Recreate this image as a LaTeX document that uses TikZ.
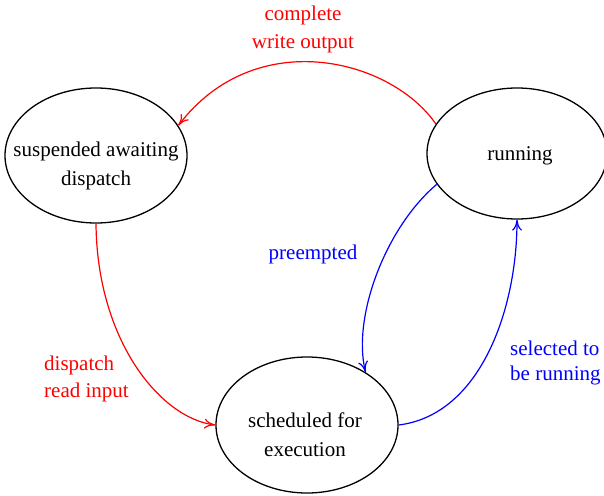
\documentclass[tikz,border=0pt]{standalone}
\usepackage{fontspec}
\setmainfont{Liberation Serif}
\usetikzlibrary{shapes.geometric,arrows.meta}
\definecolor{lred}{RGB}{255,0,0}
\definecolor{lblue}{RGB}{0,0,255}
\begin{document}
\begin{tikzpicture}[x=1pt,y=-1pt,
  state/.style={draw=black,line width=1.3pt,ellipse,inner sep=0pt},
  txt/.style={inner sep=0pt,align=center,font=\fontsize{21}{29}\selectfont},
  edge/.style={line width=1.2pt,-{To[length=11pt,width=10pt]}}]
\useasboundingbox (0,0) rectangle (604,495);
\node[state,minimum width=182pt,minimum height=135pt] (susp) at (96,155.5) {};
\node[state,minimum width=180pt,minimum height=131pt] (run) at (517,153.5) {};
\node[state,minimum width=182pt,minimum height=136pt] (sched) at (307,425) {};
\node[txt] (tsusp) at (96,165.5) {suspended awaiting\\dispatch};
\node[txt] (trun) at (520,156) {running};
\node[txt] (tsched) at (305,434.5) {scheduled for\\execution};
\node[txt,text=lred,font=\fontsize{21}{28}\selectfont] (l1) at (303,29) {complete\\write output};
\node[txt,text=lred,align=left,anchor=west,font=\fontsize{21}{27}\selectfont] (l2) at (44,378.5) {dispatch\\read input};
\node[txt,text=lblue] (l3) at (313,254) {preempted};
\node[txt,text=lblue,align=left,anchor=west,font=\fontsize{21}{25}\selectfont] (l4) at (510,362.5) {selected to\\be running};
\draw[edge,lred] (run.160) .. controls (390,58) and (255,25) .. (susp.20);
\draw[edge,lred] (susp.270) .. controls (97,340) and (160,418) .. (sched.180);
\draw[edge,lblue] (run.201) .. controls (385,228) and (352,318) .. (sched.42);
\draw[edge,lblue] (sched.0) .. controls (480,415) and (517,310) .. (run.270);
\end{tikzpicture}
\end{document}
